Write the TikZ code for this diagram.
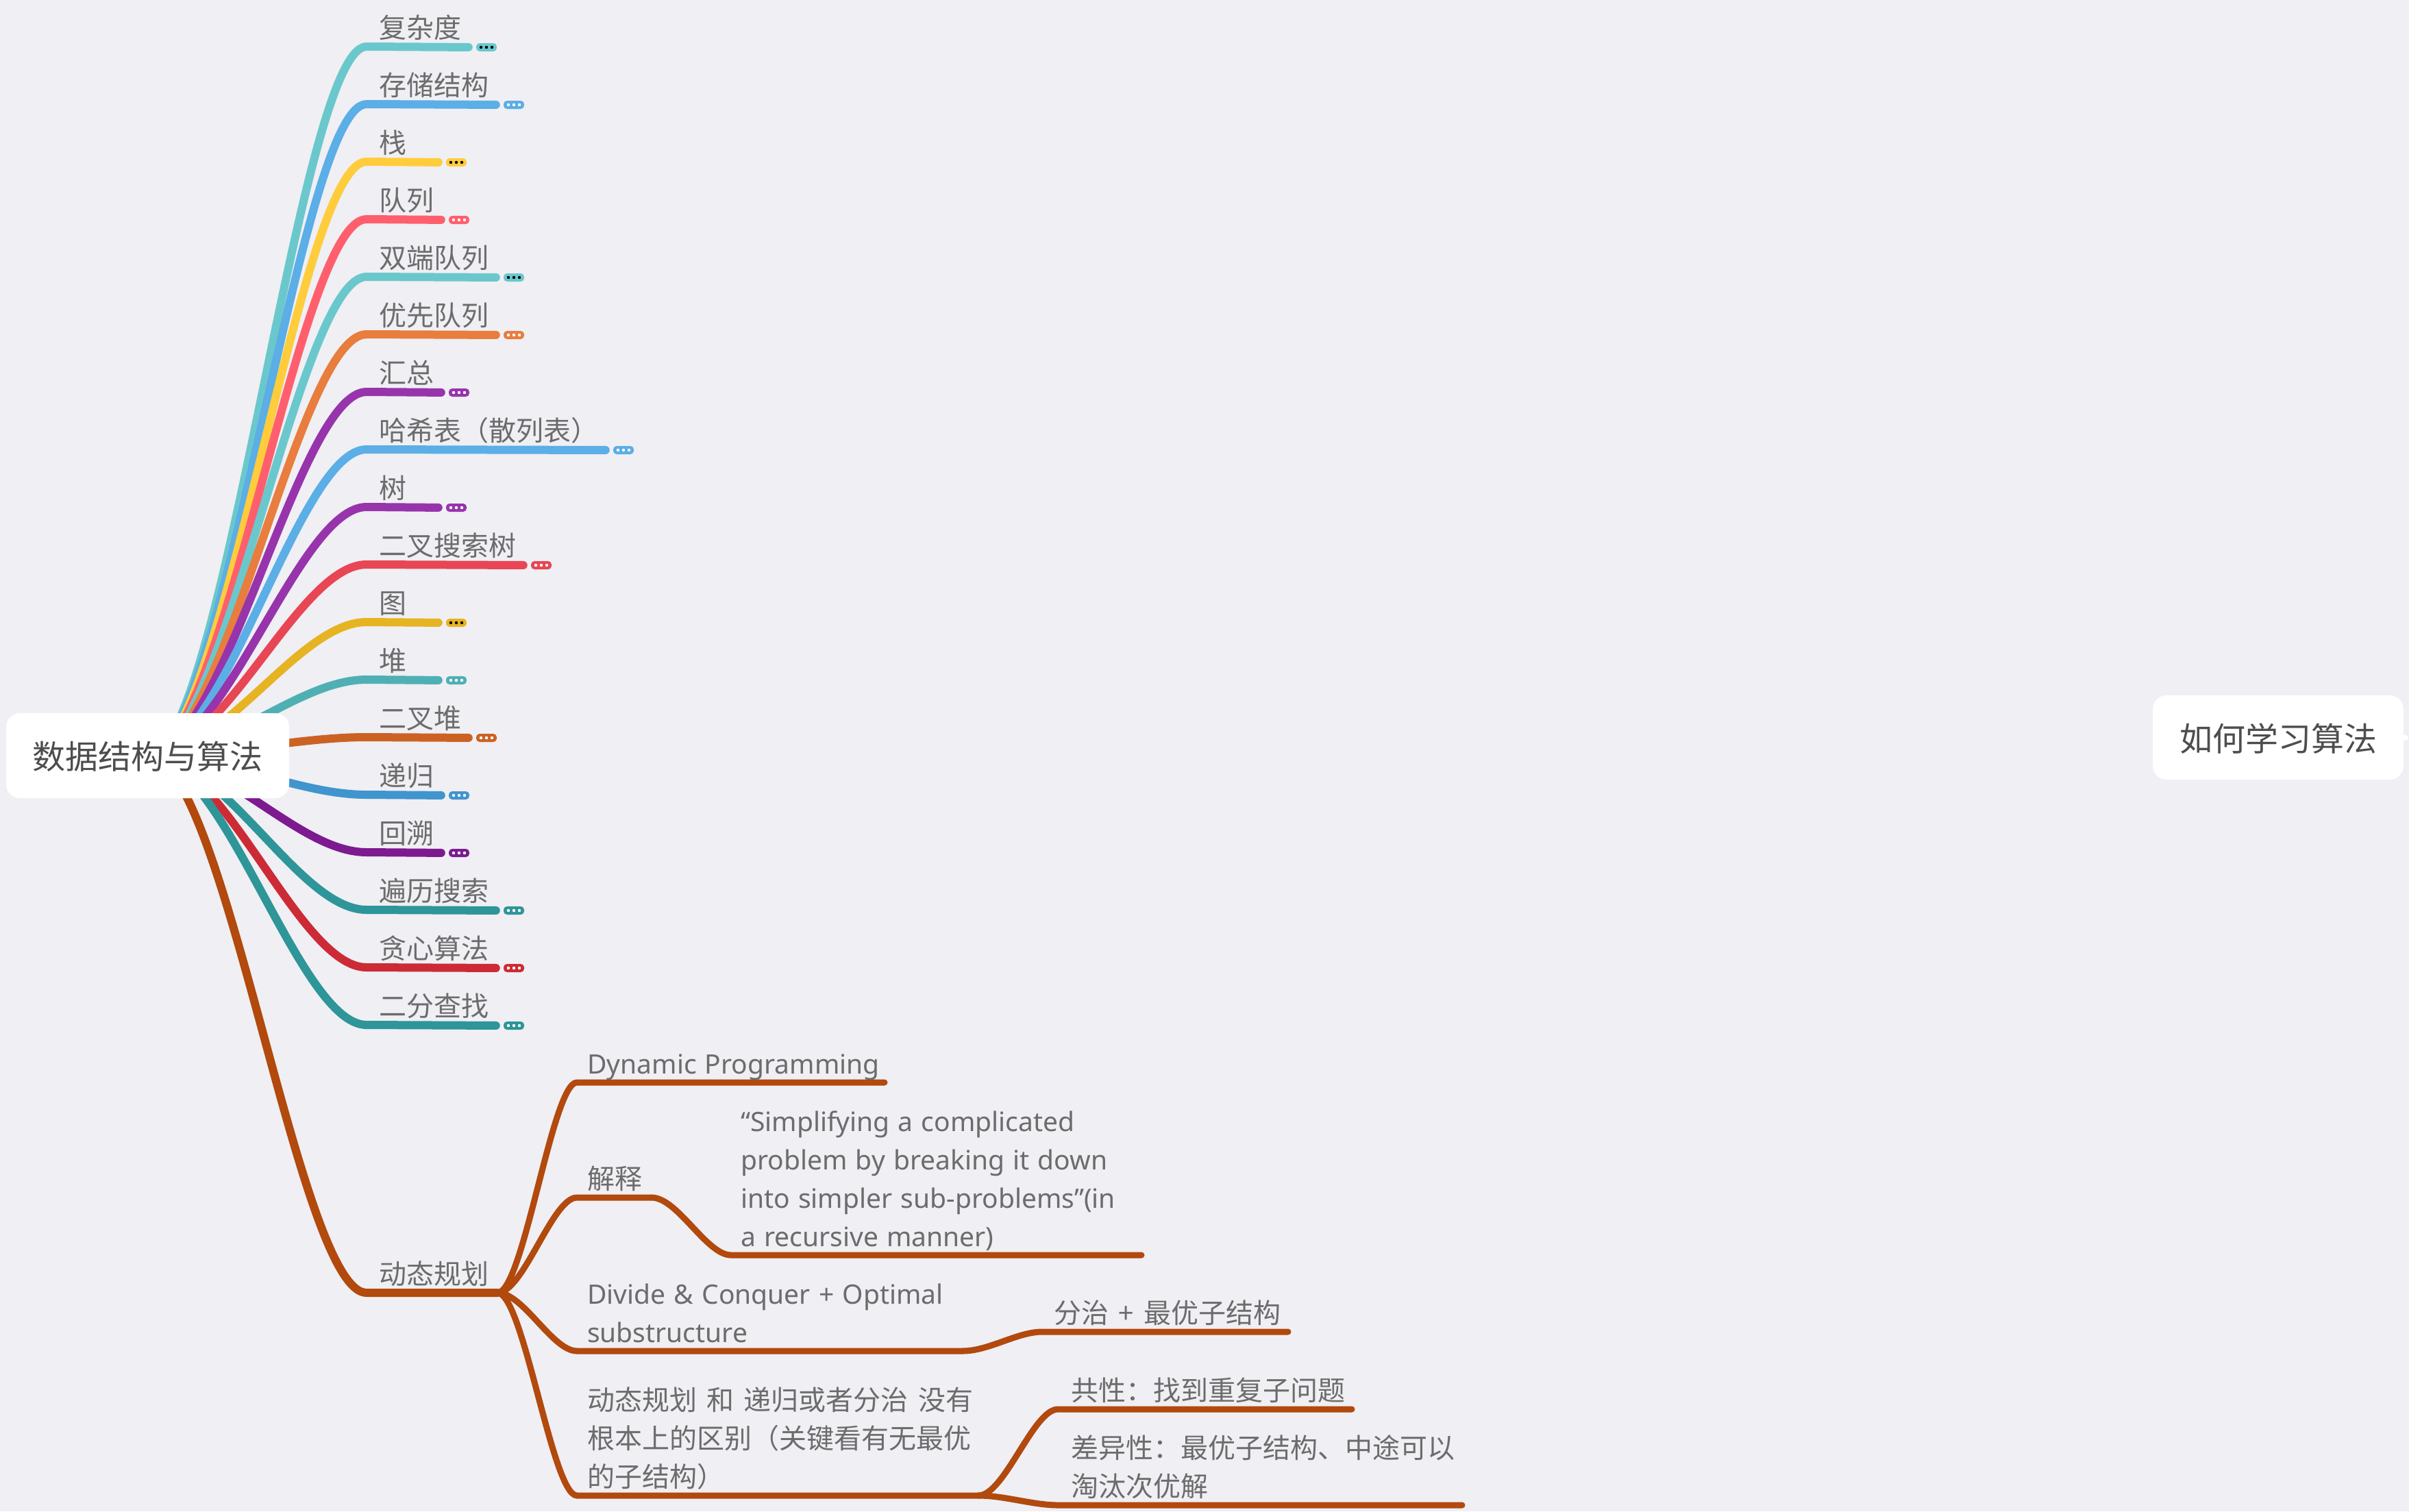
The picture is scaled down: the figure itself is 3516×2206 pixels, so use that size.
\documentclass[tikz,border=0pt]{standalone}
\usepackage{fontspec}
\setmainfont[WordSpace=1.6]{Noto Sans CJK SC}
\newfontfamily\latin[WordSpace=1.2]{Noto Sans}
\usetikzlibrary{backgrounds}

\definecolor{paper}{HTML}{EFEFF4}
\definecolor{ink}{HTML}{4D4D4D}
\definecolor{soft}{HTML}{6C6C6C}
\definecolor{cFuza}{HTML}{6AC8CC}
\definecolor{cBlue}{HTML}{5BAEE6}
\definecolor{cYellow}{HTML}{FFCC3B}
\definecolor{cCoral}{HTML}{FF5F6D}
\definecolor{cOrange}{HTML}{E87D3E}
\definecolor{cPurple}{HTML}{9734AC}
\definecolor{cRed}{HTML}{E84654}
\definecolor{cGold}{HTML}{E6B422}
\definecolor{cSea}{HTML}{4FB0B4}
\definecolor{cRust}{HTML}{CB6224}
\definecolor{cSky}{HTML}{4095CE}
\definecolor{cPlum}{HTML}{7D1A90}
\definecolor{cTeal}{HTML}{2E9598}
\definecolor{cCrimson}{HTML}{CC2B36}
\definecolor{cBrown}{HTML}{B2490D}

\tikzset{
  rootbox/.style={fill=white, rounded corners=20pt, inner sep=0pt, text=ink,
    text height=43pt, text depth=4pt, font=\fontsize{48}{56}\selectfont},
  topic/.style={anchor=south west, inner xsep=18pt, inner ysep=12pt, text depth=0pt,
    text=soft, align=left, font=\fontsize{40}{56}\selectfont},
  latintopic/.style={topic, font=\latin\fontsize{39}{56}\selectfont},
  more/.style 2 args={fill=#1, rounded corners=5pt, minimum width=30pt, minimum height=12pt,
    inner sep=0pt, path picture={
      \foreach \dx in {-8,0,8}
        \fill[#2] ([xshift=\dx pt]path picture bounding box.center) circle (2.2pt);
    }},
  branch/.style={line width=12pt, line cap=round},
  twig/.style={cBrown, line width=9pt, line cap=round},
  tomore/.style={shorten >=11pt}
}

\begin{document}
\begin{tikzpicture}[x=1pt,y=-1pt]
\useasboundingbox (0,0) rectangle (3516,2206);

\node[rootbox, minimum width=413pt, minimum height=124pt] (root) at (215.5,1103) {数据结构与算法};
\node[rootbox, minimum width=366pt, minimum height=123pt] (learn) at (3325,1076.5) {如何学习算法};
\coordinate (learnend) at (3511,1077);

\node[topic] (fuza) at (535,68) {复杂度};
\node[topic] (cunchu) at (535,152) {存储结构};
\node[topic] (zhan) at (535,236) {栈};
\node[topic] (duilie) at (535,320) {队列};
\node[topic] (shuangduan) at (535,404) {双端队列};
\node[topic] (youxian) at (535,488) {优先队列};
\node[topic] (huizong) at (535,572) {汇总};
\node[topic] (hash) at (535,656) {哈希表（散列表）};
\node[topic] (shu) at (535,740) {树};
\node[topic] (bst) at (535,824) {二叉搜索树};
\node[topic] (tu) at (535,908) {图};
\node[topic] (dui) at (535,992) {堆};
\node[topic] (erchadui) at (535,1076) {二叉堆};
\node[topic] (digui) at (535,1160) {递归};
\node[topic] (huisu) at (535,1244) {回溯};
\node[topic] (bianli) at (535,1328) {遍历搜索};
\node[topic] (tanxin) at (535,1412) {贪心算法};
\node[topic] (erfen) at (535,1496) {二分查找};

\node[more={cFuza}{black}] (fuzamore) at (710,69) {};
\node[more={cBlue}{white}] (cunchumore) at (750,153) {};
\node[more={cYellow}{black}] (zhanmore) at (666,237) {};
\node[more={cCoral}{white}] (duiliemore) at (670,321) {};
\node[more={cFuza}{black}] (shuangduanmore) at (750,405) {};
\node[more={cOrange}{white}] (youxianmore) at (750,489) {};
\node[more={cPurple}{white}] (huizongmore) at (670,573) {};
\node[more={cBlue}{white}] (hashmore) at (910,657) {};
\node[more={cPurple}{white}] (shumore) at (666,741) {};
\node[more={cRed}{white}] (bstmore) at (790,825) {};
\node[more={cGold}{black}] (tumore) at (666,909) {};
\node[more={cSea}{white}] (duimore) at (666,993) {};
\node[more={cRust}{white}] (erchaduimore) at (710,1077) {};
\node[more={cSky}{white}] (diguimore) at (670,1161) {};
\node[more={cPlum}{white}] (huisumore) at (670,1245) {};
\node[more={cTeal}{white}] (bianlimore) at (750,1329) {};
\node[more={cCrimson}{white}] (tanxinmore) at (750,1413) {};
\node[more={cTeal}{white}] (erfenmore) at (750,1497) {};

\node[topic] (dongtai) at (535,1887) {动态规划};
\coordinate (dongtaiend) at (726,1887);

\node[latintopic, inner xsep=15pt] (dp) at (842,1580) {Dynamic Programming};
\coordinate (dpend) at (1291,1580);
\node[topic, inner xsep=15pt] (jieshi) at (842,1748) {解释};
\coordinate (jieshiend) at (951,1748);
\node[latintopic, inner xsep=14pt] (quote) at (1067,1832) {“Simplifying a complicated\\problem by breaking it down\\into simpler sub-problems”(in\\a recursive manner)};
\coordinate (quoteend) at (1666,1832);
\node[latintopic, inner xsep=15pt] (divide) at (842,1972) {Divide \& Conquer + Optimal\\substructure};
\coordinate (divideend) at (1405,1972);
\node[topic, inner xsep=17pt] (fenzhi) at (1521,1944) {分治 + 最优子结构};
\coordinate (fenzhiend) at (1880,1944);
\node[topic, inner xsep=15pt] (qubie) at (842,2183) {动态规划 和 递归或者分治 没有\\根本上的区别（关键看有无最优\\的子结构）};
\coordinate (qubieend) at (1428,2183);
\node[topic, inner xsep=19pt] (gongxing) at (1544,2057) {共性：找到重复子问题};
\coordinate (gongxingend) at (1973,2057);
\node[topic, inner xsep=19pt] (chayi) at (1544,2197) {差异性：最优子结构、中途可以\\淘汰次优解};
\coordinate (chayiend) at (2134,2197);

\begin{scope}[on background layer]
\fill[paper] (0,0) rectangle (3516,2206);

\draw[branch, cFuza, tomore] (root.center) .. controls (328,1103) and (436,68) .. (fuza.south west) -- (fuzamore.west);
\draw[branch, cBlue, tomore] (root.center) .. controls (328,1103) and (436,152) .. (cunchu.south west) -- (cunchumore.west);
\draw[branch, cYellow, tomore] (root.center) .. controls (328,1103) and (436,236) .. (zhan.south west) -- (zhanmore.west);
\draw[branch, cCoral, tomore] (root.center) .. controls (328,1103) and (436,320) .. (duilie.south west) -- (duiliemore.west);
\draw[branch, cFuza, tomore] (root.center) .. controls (328,1103) and (436,404) .. (shuangduan.south west) -- (shuangduanmore.west);
\draw[branch, cOrange, tomore] (root.center) .. controls (328,1103) and (436,488) .. (youxian.south west) -- (youxianmore.west);
\draw[branch, cPurple, tomore] (root.center) .. controls (328,1103) and (436,572) .. (huizong.south west) -- (huizongmore.west);
\draw[branch, cBlue, tomore] (root.center) .. controls (328,1103) and (436,656) .. (hash.south west) -- (hashmore.west);
\draw[branch, cPurple, tomore] (root.center) .. controls (328,1103) and (436,740) .. (shu.south west) -- (shumore.west);
\draw[branch, cRed, tomore] (root.center) .. controls (328,1103) and (436,824) .. (bst.south west) -- (bstmore.west);
\draw[branch, cGold, tomore] (root.center) .. controls (328,1103) and (436,908) .. (tu.south west) -- (tumore.west);
\draw[branch, cSea, tomore] (root.center) .. controls (328,1103) and (436,992) .. (dui.south west) -- (duimore.west);
\draw[branch, cRust, tomore] (root.center) .. controls (328,1103) and (436,1076) .. (erchadui.south west) -- (erchaduimore.west);
\draw[branch, cSky, tomore] (root.center) .. controls (328,1103) and (436,1160) .. (digui.south west) -- (diguimore.west);
\draw[branch, cPlum, tomore] (root.center) .. controls (328,1103) and (436,1244) .. (huisu.south west) -- (huisumore.west);
\draw[branch, cTeal, tomore] (root.center) .. controls (328,1103) and (436,1328) .. (bianli.south west) -- (bianlimore.west);
\draw[branch, cCrimson, tomore] (root.center) .. controls (328,1103) and (436,1412) .. (tanxin.south west) -- (tanxinmore.west);
\draw[branch, cTeal, tomore] (root.center) .. controls (328,1103) and (436,1496) .. (erfen.south west) -- (erfenmore.west);
\draw[branch, cBrown] (root.center) .. controls (328,1103) and (436,1887) .. (dongtai.south west) -- (dongtaiend);

\draw[twig] (dongtaiend) .. controls (764,1887) and (806,1580) .. (dp.south west) -- (dpend);
\draw[twig] (dongtaiend) .. controls (764,1887) and (806,1748) .. (jieshi.south west) -- (jieshiend);
\draw[twig] (jieshiend) .. controls (989,1748) and (1031,1832) .. (quote.south west) -- (quoteend);
\draw[twig] (dongtaiend) .. controls (764,1887) and (806,1972) .. (divide.south west) -- (divideend);
\draw[twig] (divideend) .. controls (1443,1972) and (1485,1944) .. (fenzhi.south west) -- (fenzhiend);
\draw[twig] (dongtaiend) .. controls (764,1887) and (806,2183) .. (qubie.south west) -- (qubieend);
\draw[twig] (qubieend) .. controls (1466,2183) and (1508,2057) .. (gongxing.south west) -- (gongxingend);
\draw[twig] (qubieend) .. controls (1466,2183) and (1508,2197) .. (chayi.south west) -- (chayiend);
\end{scope}

\draw[white, line width=8pt, line cap=round] (learn.east) -- (learnend);
\end{tikzpicture}
\end{document}
